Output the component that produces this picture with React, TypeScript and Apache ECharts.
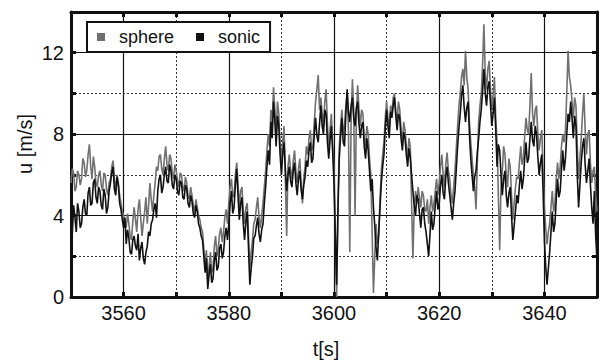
import { useEffect, useRef } from "react";
import * as echarts from "echarts";

// Wind speed samples, one every 0.25 s starting at t = 3550 s (one row = 5 s)
const T_START = 3550;
const T_STEP = 0.25;

const sphere = [
  5.6, 6.3, 6.1, 5.2, 5.4, 6.2, 6.0, 5.5, 5.8, 6.8, 6.6, 5.9, 6.2, 7.0, 7.5, 6.4, 5.8, 6.9, 6.4, 5.6,
  5.4, 6.0, 6.2, 5.5, 5.2, 6.1, 6.0, 5.3, 5.0, 5.6, 5.8, 6.4, 6.7, 5.8, 5.2, 6.0, 5.6, 5.0, 4.6, 4.2,
  4.0, 3.6, 3.4, 4.1, 3.6, 3.0, 2.8, 3.7, 4.4, 3.8, 3.2, 4.3, 4.8, 3.9, 3.0, 3.6, 4.2, 4.9, 3.6, 4.5,
  5.6, 4.8, 4.2, 5.0, 5.6, 6.4, 6.2, 6.9, 7.0, 6.3, 6.0, 6.8, 7.4, 6.5, 6.2, 7.0, 6.8, 6.1, 5.8, 6.5,
  6.2, 5.7, 5.4, 6.1, 6.0, 5.4, 5.2, 5.9, 5.6, 5.0, 4.8, 5.4, 5.0, 4.5, 4.2, 4.8, 4.4, 4.0, 3.8, 3.4,
  3.2, 2.4, 1.6, 2.3, 0.8, 1.5, 2.2, 1.2, 1.4, 2.5, 3.0, 2.0, 2.4, 3.1, 3.4, 2.7, 3.2, 3.9, 4.3, 3.6,
  4.6, 5.4, 5.8, 4.9, 5.0, 6.0, 6.6, 5.6, 4.4, 5.2, 5.4, 4.3, 3.6, 4.4, 4.6, 3.0, 1.4, 2.2, 2.8, 3.6,
  3.8, 4.4, 4.9, 3.9, 3.4, 4.0, 4.6, 5.4, 6.2, 7.2, 8.0, 7.4, 9.2, 8.5, 10.3, 9.2, 8.0, 9.6, 9.0, 7.6,
  6.6, 7.6, 8.4, 5.8, 3.0, 6.4, 7.0, 6.2, 5.8, 6.7, 7.2, 6.2, 5.6, 6.3, 6.8, 5.6, 4.6, 5.8, 6.4, 7.4,
  7.0, 7.8, 8.2, 7.2, 7.4, 8.6, 9.6, 10.2, 10.9, 9.2, 9.8, 9.0, 8.4, 9.6, 10.2, 8.5, 7.4, 8.2, 9.0, 7.6,
  6.2, 3.2, 0.0, 4.6, 7.4, 8.4, 9.2, 8.0, 8.4, 9.4, 10.0, 8.2, 2.2, 8.6, 10.7, 9.2, 4.0, 8.8, 10.4, 9.2,
  8.4, 9.2, 9.0, 7.8, 7.4, 8.4, 8.0, 6.8, 6.0, 3.2, 0.2, 2.0, 3.6, 2.6, 3.0, 4.8, 6.2, 7.0, 7.6, 8.8,
  9.6, 8.8, 8.2, 9.4, 9.0, 9.8, 10.0, 9.1, 8.6, 9.6, 9.2, 8.2, 7.6, 8.6, 8.2, 7.4, 6.8, 7.8, 7.4, 4.6,
  1.9, 4.4, 5.2, 4.6, 5.4, 4.9, 4.4, 5.2, 5.0, 4.3, 4.2, 4.8, 3.6, 4.4, 5.0, 4.2, 4.6, 5.2, 5.8, 5.0,
  5.6, 6.4, 7.0, 6.0, 5.4, 6.5, 7.1, 6.2, 5.8, 5.0, 4.6, 5.4, 6.2, 7.3, 8.4, 9.4, 10.0, 10.8, 11.2, 10.4,
  12.1, 10.8, 10.2, 8.6, 7.6, 6.8, 6.0, 5.4, 4.3, 6.6, 8.6, 9.4, 10.0, 11.4, 13.4, 11.0, 10.2, 11.2, 11.6, 10.2,
  9.2, 9.9, 10.8, 8.8, 7.6, 5.0, 2.3, 5.4, 6.2, 7.4, 7.0, 6.0, 5.4, 6.8, 6.4, 5.0, 3.8, 4.6, 5.4, 5.9,
  5.8, 6.6, 7.4, 6.5, 6.8, 7.9, 8.8, 8.2, 8.0, 9.4, 11.0, 9.0, 8.4, 9.2, 9.4, 8.0, 7.2, 7.8, 8.2, 6.2,
  4.4, 3.4, 2.6, 3.2, 3.6, 4.4, 5.2, 4.2, 4.6, 5.8, 6.6, 5.8, 6.4, 7.4, 8.0, 7.6, 8.2, 10.0, 12.1, 10.8,
  10.4, 9.6, 8.8, 9.8, 9.4, 7.4, 5.8, 6.8, 7.8, 9.0, 10.0, 8.2, 7.0, 8.0, 8.2, 6.6, 5.6, 6.2, 6.4, 5.0,
  4.2,
];

const sonic = [
  3.8, 3.1, 4.5, 3.9, 3.2, 4.6, 4.2, 3.4, 3.6, 4.4, 4.8, 4.1, 4.0, 5.1, 5.4, 4.5, 4.6, 5.6, 5.8, 4.9,
  4.6, 5.4, 5.2, 4.5, 4.3, 5.3, 5.0, 4.1, 4.4, 5.2, 5.6, 6.1, 6.4, 5.3, 5.0, 5.9, 5.5, 4.6, 4.3, 3.8,
  3.4, 3.9, 2.6, 3.3, 2.9, 2.2, 2.1, 2.8, 3.0, 2.5, 2.3, 3.1, 1.8, 2.4, 2.7, 1.9, 1.6, 2.2, 2.5, 3.2,
  3.0, 3.6, 3.8, 4.3, 4.6, 3.9, 5.2, 5.8, 6.0, 5.1, 5.4, 6.0, 6.4, 5.7, 5.6, 6.5, 6.2, 5.5, 5.3, 6.0,
  5.8, 5.2, 5.0, 5.7, 5.6, 4.9, 4.8, 5.5, 5.3, 4.6, 4.4, 5.0, 4.7, 4.1, 3.9, 4.5, 4.2, 3.6, 3.4, 3.0,
  2.8, 2.0, 1.2, 1.9, 0.4, 1.1, 1.6, 0.7, 0.9, 1.8, 2.2, 1.3, 1.5, 2.4, 2.6, 1.9, 2.2, 3.0, 3.4, 2.8,
  3.6, 4.6, 5.2, 4.1, 4.4, 5.5, 6.3, 5.0, 3.8, 4.6, 4.9, 3.6, 2.8, 3.7, 4.2, 2.4, 0.6, 1.4, 2.0, 2.9,
  3.0, 3.5, 3.9, 3.1, 2.7, 3.3, 3.6, 4.6, 5.4, 6.4, 7.2, 6.5, 8.6, 7.8, 9.6, 8.7, 7.4, 8.9, 8.4, 7.0,
  6.0, 7.0, 7.6, 6.3, 5.2, 6.0, 6.4, 5.7, 5.4, 6.2, 6.6, 5.6, 5.0, 5.8, 6.2, 5.3, 4.8, 5.5, 5.9, 6.7,
  6.4, 7.2, 7.6, 6.6, 6.8, 8.0, 8.8, 7.9, 7.6, 8.5, 9.4, 8.4, 8.0, 9.2, 9.0, 7.6, 6.8, 7.7, 8.4, 7.1,
  5.6, 3.0, 0.6, 4.2, 6.8, 7.9, 8.8, 7.6, 7.4, 9.0, 10.2, 9.1, 8.6, 9.4, 9.8, 8.8, 8.4, 9.3, 9.6, 8.5,
  7.8, 8.4, 8.6, 7.4, 6.8, 7.8, 7.2, 6.2, 5.2, 5.8, 4.4, 3.5, 2.4, 1.8, 3.2, 4.4, 5.6, 6.4, 7.0, 8.3,
  9.2, 8.4, 7.8, 9.1, 8.8, 9.4, 9.8, 8.9, 8.2, 9.0, 8.8, 7.8, 7.2, 8.1, 7.8, 7.0, 6.4, 7.3, 6.9, 6.0,
  5.2, 4.5, 4.0, 5.0, 4.8, 4.1, 3.4, 4.3, 4.4, 3.6, 3.2, 2.6, 2.0, 3.1, 4.2, 3.3, 3.6, 4.5, 5.2, 4.3,
  4.6, 5.5, 6.0, 5.1, 4.8, 5.9, 6.4, 5.6, 5.0, 4.4, 3.8, 4.6, 5.2, 6.3, 7.4, 8.3, 9.0, 9.9, 10.4, 9.3,
  8.6, 9.3, 9.6, 8.0, 6.8, 6.0, 5.2, 5.9, 6.2, 7.1, 7.8, 8.6, 9.2, 10.1, 11.2, 10.0, 9.4, 10.3, 10.6, 9.5,
  8.4, 9.0, 9.8, 8.2, 6.4, 7.5, 7.2, 6.0, 5.0, 5.8, 6.2, 5.0, 4.4, 5.1, 5.4, 4.0, 2.8, 3.5, 4.2, 5.0,
  4.6, 5.5, 6.2, 5.3, 5.8, 6.8, 7.6, 6.6, 6.8, 7.8, 8.6, 7.7, 7.4, 8.4, 8.0, 6.9, 6.0, 6.6, 7.0, 5.2,
  2.8, 1.5, 0.6, 1.4, 2.2, 3.2, 4.2, 3.2, 3.6, 4.8, 5.8, 4.9, 5.2, 6.3, 7.2, 6.2, 6.8, 8.0, 9.0, 8.6,
  9.6, 8.8, 7.8, 8.9, 8.4, 6.0, 4.4, 5.5, 6.6, 7.4, 7.8, 6.5, 5.6, 6.2, 6.8, 5.5, 4.4, 3.6, 5.2, 3.0,
  1.8,
];

// Axis ranges, labelled ticks and solid (major) grid positions
const X_MIN = 3550;
const X_MAX = 3650;
const Y_MIN = 0;
const Y_MAX = 14;
const xTickLabels = [3560, 3580, 3600, 3620, 3640];
const yTickLabels = [0, 4, 8, 12];
const xMajorGrid = [3560, 3580, 3600, 3620, 3640];
const yMajorGrid = [4, 8, 12];

const FONT = "'Liberation Sans', Arial, Helvetica, sans-serif";
const INK = "#111111";
const GRAY = "#707070";

const toPairs = (vals: number[]) => vals.map((v, i) => [T_START + i * T_STEP, v]);

export default function App() {
  const ref = useRef<HTMLDivElement>(null);

  useEffect(() => {
    if (!ref.current) return;
    const chart = echarts.init(ref.current, null, { renderer: "svg" });

    const frameLine = { show: true, onZero: false, lineStyle: { color: INK, width: 3 } };
    const frameTick = { show: true, inside: true, length: 5, lineStyle: { color: INK, width: 3 } };
    const dotted = { show: true, lineStyle: { color: "#333", width: 1, type: [2, 2] as number[] } };

    const xBase = { type: "value" as const, min: X_MIN, max: X_MAX, interval: 10 };
    const yBase = { type: "value" as const, min: Y_MIN, max: Y_MAX, interval: 2 };

    chart.setOption({
      animation: false,
      backgroundColor: "#ffffff",
      grid: { left: 71, right: 3, top: 12, bottom: 63, containLabel: false },
      xAxis: [
        {
          ...xBase,
          position: "bottom",
          axisLine: frameLine,
          axisTick: frameTick,
          splitLine: dotted,
          axisLabel: {
            color: INK,
            fontSize: 20,
            fontFamily: FONT,
            margin: 6,
            formatter: (v: number) => (xTickLabels.includes(v) ? String(v) : ""),
          },
        },
        {
          ...xBase,
          position: "top",
          axisLine: frameLine,
          axisTick: frameTick,
          splitLine: { show: false },
          axisLabel: { show: false },
        },
      ],
      yAxis: [
        {
          ...yBase,
          position: "left",
          axisLine: frameLine,
          axisTick: frameTick,
          splitLine: dotted,
          axisLabel: {
            color: INK,
            fontSize: 20,
            fontFamily: FONT,
            margin: 7,
            formatter: (v: number) => (yTickLabels.includes(v) ? String(v) : ""),
          },
        },
        {
          ...yBase,
          position: "right",
          axisLine: frameLine,
          axisTick: frameTick,
          splitLine: { show: false },
          axisLabel: { show: false },
        },
      ],
      legend: {
        left: 87,
        top: 22,
        data: ["sphere", "sonic"],
        icon: "rect",
        itemWidth: 8,
        itemHeight: 8,
        itemGap: 22,
        padding: [6, 10, 6, 10],
        borderColor: INK,
        borderWidth: 2,
        borderRadius: 0,
        backgroundColor: "#ffffff",
        selectedMode: false,
        textStyle: { color: INK, fontSize: 18, fontFamily: FONT, padding: [0, 0, 0, 9] },
      },
      graphic: [
        {
          type: "text",
          x: 25,
          y: 144,
          rotation: Math.PI / 2,
          style: { text: "u [m/s]", font: `20px ${FONT}`, fill: INK, align: "center", verticalAlign: "middle" },
        },
        {
          type: "text",
          x: 326,
          y: 349,
          style: { text: "t[s]", font: `20px ${FONT}`, fill: INK, align: "center", verticalAlign: "middle" },
        },
      ],
      series: [
        {
          name: "sphere",
          type: "line",
          data: toPairs(sphere),
          symbol: "none",
          showSymbol: false,
          lineStyle: { color: GRAY, width: 1.6 },
          itemStyle: { color: GRAY },
          markLine: {
            z: 1,
            silent: true,
            symbol: ["none", "none"],
            label: { show: false },
            animation: false,
            lineStyle: { color: INK, width: 1.2, type: "solid" },
            data: [
              ...xMajorGrid.map((v) => ({ xAxis: v })),
              ...yMajorGrid.map((v) => ({ yAxis: v })),
            ],
          },
        },
        {
          name: "sonic",
          type: "line",
          data: toPairs(sonic),
          symbol: "none",
          showSymbol: false,
          lineStyle: { color: INK, width: 1.6 },
          itemStyle: { color: INK },
        },
      ],
    });

    return () => chart.dispose();
  }, []);

  return (
    <div
      ref={ref}
      style={{ position: "fixed", left: 0, top: 0, width: 600, height: 360, background: "#fff" }}
    />
  );
}
